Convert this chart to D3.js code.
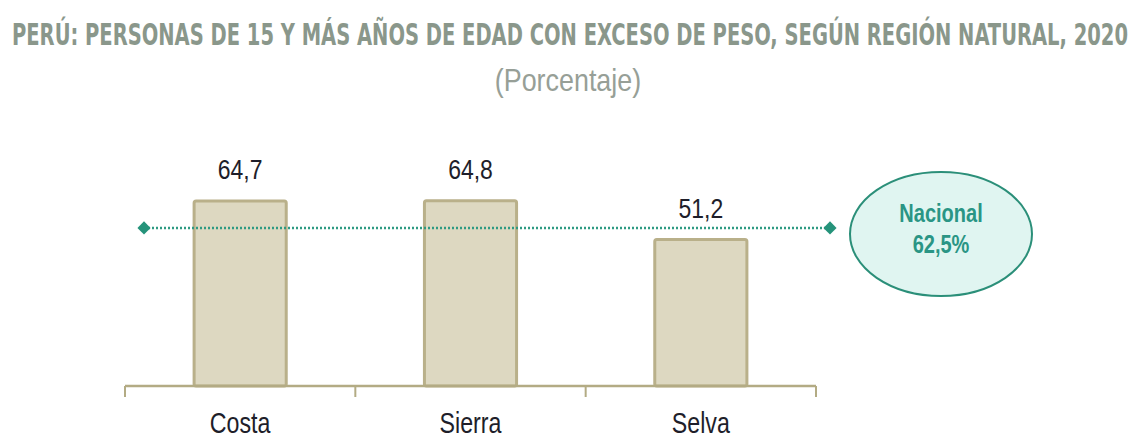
<!DOCTYPE html>
<html>
<head>
<meta charset="utf-8">
<script src="https://cdn.jsdelivr.net/npm/d3@7"></script>
<style>
	body { margin: 0; background: #fff; }
	svg { display: block; }
</style>
</head>
<body>
<svg width="1134" height="438"></svg>
<script>
// Regiones naturales y porcentaje de personas con exceso de peso
const regiones = ["Costa", "Sierra", "Selva"];
const valores = [64.7, 64.8, 51.2];
const etiquetas = ["64,7", "64,8", "51,2"];
const nacional = 62.5;
const nacionalTexto = ["Nacional", "62,5%"];

const svg = d3.select("svg");
const base = 386;			// the baseline of the bars
const narrow = "'Liberation Sans', Arial, sans-serif";

// there is no narrow font installed, so the text is squeezed to a share of its width
function squeeze(sel, ratio) {
	sel.each(function() {
		const w = this.getComputedTextLength();
		d3.select(this)
		  .attr("textLength", w * ratio)
		  .attr("lengthAdjust", "spacingAndGlyphs");
	});
}

// bars scale and band scale for the categories
const xScale = d3.scaleBand()
				 .domain(regiones)
				 .range([125, 816])
				 .paddingInner(0.6)
				 .paddingOuter(0.3);

const yScale = d3.scaleLinear()
				 .domain([0, 80])
				 .range([base, base - 80 * 2.86]);

// the national line sits on its own (secondary) axis like in the excel original
const y2Scale = d3.scaleLinear()
				  .domain([0, 80])
				  .range([base, base - 80 * 2.53]);
const xLine = d3.scaleLinear().domain([0, 1]).range([144, 830]);

// title: small font stretched up so it looks like a tall condensed face
svg.append("text")
   .attr("transform", "translate(570, 45) scale(1, 1.45)")
   .attr("text-anchor", "middle")
   .attr("font-family", "'DejaVu Sans Condensed', 'DejaVu Sans'")
   .attr("font-weight", "bold")
   .attr("font-size", 21)
   .attr("textLength", 1116)
   .attr("lengthAdjust", "spacingAndGlyphs")
   .attr("fill", "#8a978b")
   .text("PERÚ: PERSONAS DE 15 Y MÁS AÑOS DE EDAD CON EXCESO DE PESO, SEGÚN REGIÓN NATURAL, 2020");

svg.append("text")
   .attr("x", 568).attr("y", 91)
   .attr("text-anchor", "middle")
   .attr("font-family", narrow)
   .attr("font-size", 32)
   .attr("fill", "#979f97")
   .text("(Porcentaje)")
   .call(squeeze, 0.84);

// bars
svg.selectAll("rect.bar")
   .data(valores)
   .enter()
   .append("rect")
   .attr("class", "bar")
   .attr("x", (d, i) => xScale(regiones[i]))
   .attr("y", d => yScale(d))
   .attr("width", xScale.bandwidth())
   .attr("height", d => base - yScale(d))
   .attr("fill", "#ddd8c1")
   .attr("stroke", "#b9b08a")
   .attr("stroke-width", 3)
   .attr("rx", 2);

// axis: baseline plus ticks between the categories
const axisG = svg.append("g").attr("transform", `translate(0, ${base})`);
axisG.append("line")
	 .attr("x1", 125).attr("x2", 816)
	 .attr("stroke", "#b3ab84").attr("stroke-width", 2.5);
const tickX = [125].concat(regiones.map(r => xScale(r) + xScale.bandwidth() / 2 + xScale.step() / 2));
axisG.selectAll("line.tick")
	 .data(tickX)
	 .enter()
	 .append("line")
	 .attr("class", "tick")
	 .attr("x1", d => d).attr("x2", d => d)
	 .attr("y1", 0).attr("y2", 11)
	 .attr("stroke", "#b3ab84").attr("stroke-width", 2);

axisG.selectAll("text")
	 .data(regiones)
	 .enter()
	 .append("text")
	 .attr("x", d => xScale(d) + xScale.bandwidth() / 2)
	 .attr("y", 47)
	 .attr("text-anchor", "middle")
	 .attr("font-family", narrow)
	 .attr("font-size", 29)
	 .attr("fill", "#1e1e2a")
	 .text(d => d)
	 .call(squeeze, 0.8);

// national line (dotted) with diamond markers
const yN = y2Scale(nacional);
svg.append("line")
   .attr("x1", xLine(0)).attr("x2", xLine(1))
   .attr("y1", yN).attr("y2", yN)
   .attr("stroke", "#2e9a82")
   .attr("stroke-width", 2.5)
   .attr("stroke-dasharray", "2,2");

svg.selectAll("path.diamond")
   .data([0, 1])
   .enter()
   .append("path")
   .attr("class", "diamond")
   .attr("d", d3.symbol(d3.symbolDiamond2, 110))
   .attr("transform", d => `translate(${xLine(d)}, ${yN})`)
   .attr("fill", "#25937a");

// value labels above the bars
svg.selectAll("text.value")
   .data(valores)
   .enter()
   .append("text")
   .attr("class", "value")
   .attr("x", (d, i) => xScale(regiones[i]) + xScale.bandwidth() / 2)
   .attr("y", d => yScale(d) - 22)
   .attr("text-anchor", "middle")
   .attr("font-family", narrow)
   .attr("font-size", 28)
   .attr("fill", "#1e1e2a")
   .text((d, i) => etiquetas[i])
   .call(squeeze, 0.82);

// ellipse callout with the national value
const callout = svg.append("g").attr("transform", "translate(941, 234)");
callout.append("ellipse")
	   .attr("rx", 91).attr("ry", 62)
	   .attr("fill", "#e0f5f1")
	   .attr("stroke", "#2b8f79")
	   .attr("stroke-width", 2);
callout.selectAll("text")
	   .data(nacionalTexto)
	   .enter()
	   .append("text")
	   .attr("x", 0)
	   .attr("y", (d, i) => -12 + i * 31)
	   .attr("text-anchor", "middle")
	   .attr("font-family", narrow)
	   .attr("font-weight", "bold")
	   .attr("font-size", 25)
	   .attr("fill", "#2a9585")
	   .text(d => d)
	   .call(squeeze, 0.8);
</script>
</body>
</html>
